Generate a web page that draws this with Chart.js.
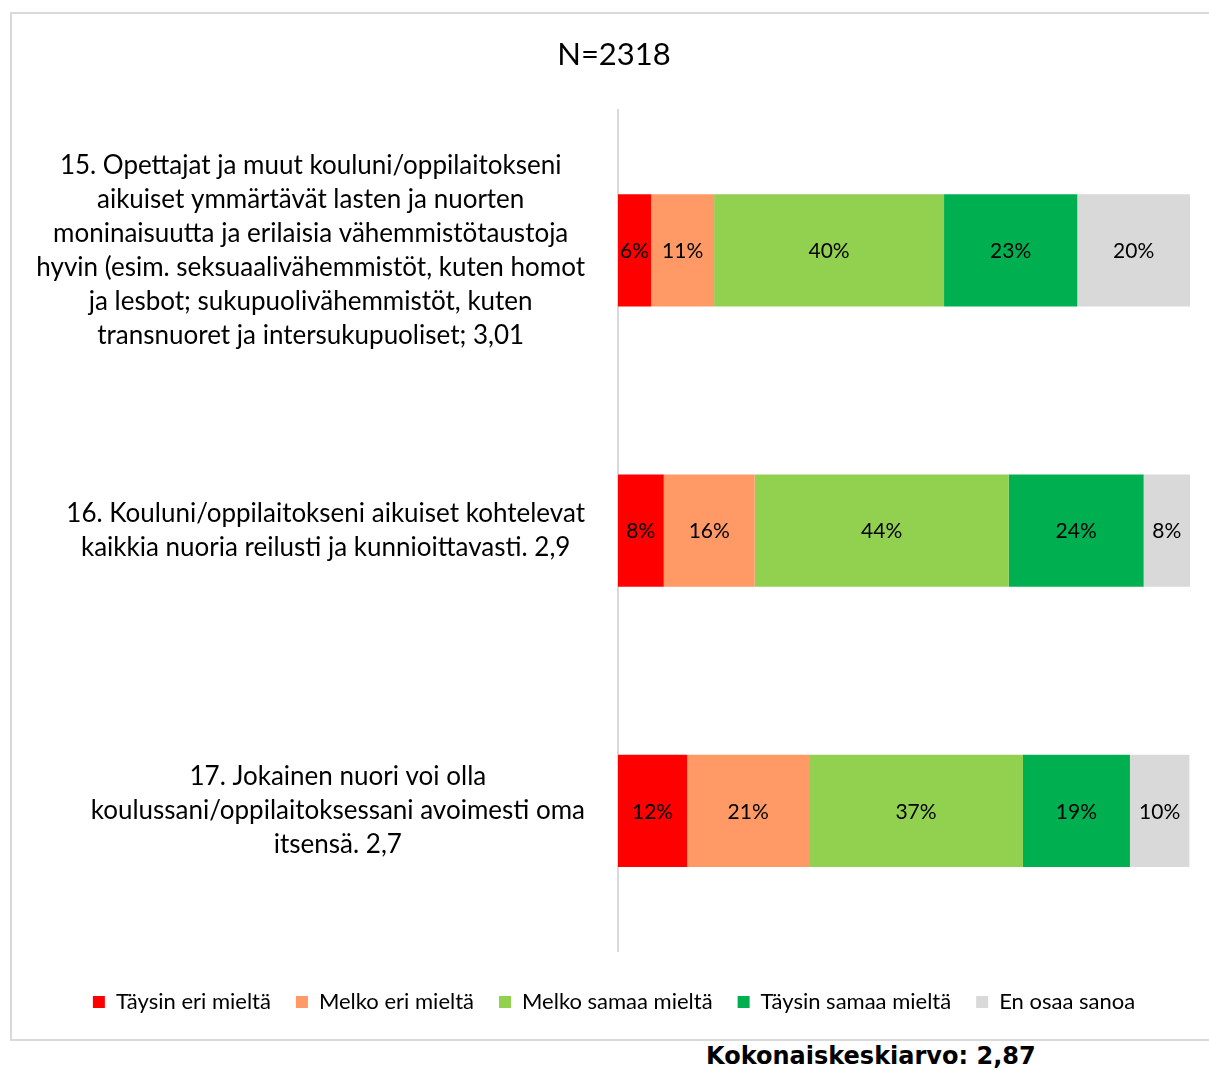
<!DOCTYPE html>
<html><head><meta charset="utf-8">
<script src="https://cdn.jsdelivr.net/npm/chart.js@4"></script>
<style>
html,body{margin:0;padding:0;background:#fff;overflow:hidden;width:1209px;height:1070px;}
#frame{position:absolute;left:10px;top:12px;width:1204px;height:1025px;border:2px solid #d9d9d9;}
#frame canvas{display:block}
#footer{position:absolute;left:706px;top:1043px;font:bold 24px "DejaVu Sans";line-height:26px;color:#000;white-space:nowrap;}
</style></head>
<body>
<div id="frame"><canvas id="c" width="1204" height="1025"></canvas></div>
<div id="footer">Kokonaiskeskiarvo: 2,87</div>
<script>
const chartTitle = 'N=2318';
const categories = [
  ['15. Opettajat ja muut kouluni/oppilaitokseni',
   'aikuiset ymmärtävät lasten ja nuorten',
   'moninaisuutta ja erilaisia vähemmistötaustoja',
   'hyvin (esim. seksuaalivähemmistöt, kuten homot',
   'ja lesbot; sukupuolivähemmistöt, kuten',
   'transnuoret ja intersukupuoliset; 3,01'],
  ['16. Kouluni/oppilaitokseni aikuiset kohtelevat',
   'kaikkia nuoria reilusti ja kunnioittavasti. 2,9'],
  ['17. Jokainen nuori voi olla',
   'koulussani/oppilaitoksessani avoimesti oma',
   'itsensä. 2,7']
];
const seriesNames = ['Täysin eri mieltä', 'Melko eri mieltä', 'Melko samaa mieltä', 'Täysin samaa mieltä', 'En osaa sanoa'];
const taysinEri   = [5.8, 8.0, 12.1];
const melkoEri    = [11.0, 15.9, 21.3];
const melkoSamaa  = [40.2, 44.4, 37.4];
const taysinSamaa = [23.3, 23.6, 18.7];
const enOsaa      = [19.7, 8.1, 10.4];
const seriesValues = [taysinEri, melkoEri, melkoSamaa, taysinSamaa, enOsaa];
const seriesColors = ['#FF0000', '#FF9966', '#92D050', '#00B050', '#D9D9D9'];

const FONT = 'Lato';
const labelFontSize = 26;
const labelLineHeight = 34;
const labelPad = 33;

const categoryLabelPlugin = {
  id: 'categoryLabels',
  afterDraw(chart) {
    const ys = chart.scales.y;
    const ctx = chart.ctx;
    ctx.save();
    ctx.font = labelFontSize + 'px ' + FONT;
    ctx.fillStyle = '#000';
    ctx.textAlign = 'center';
    ctx.textBaseline = 'middle';
    categories.forEach((lines, i) => {
      const y = ys.getPixelForValue(i);
      const w = Math.max(...lines.map(l => ctx.measureText(l).width));
      const cx = ys.right - labelPad - w / 2;
      const y0 = y - (lines.length - 1) * labelLineHeight / 2;
      lines.forEach((l, k) => ctx.fillText(l, cx, y0 + k * labelLineHeight));
    });
    ctx.restore();
  }
};

const valueLabelPlugin = {
  id: 'valueLabels',
  afterDatasetsDraw(chart) {
    const ctx = chart.ctx;
    ctx.save();
    ctx.font = '21px ' + FONT;
    ctx.fillStyle = '#000';
    ctx.textAlign = 'center';
    ctx.textBaseline = 'middle';
    chart.data.datasets.forEach((ds, di) => {
      const meta = chart.getDatasetMeta(di);
      meta.data.forEach((el, i) => {
        const v = ds.data[i];
        const x = (el.x + el.base) / 2;
        ctx.fillText(Math.round(v) + '%', x, el.y + 1);
      });
    });
    ctx.restore();
  }
};

new Chart(document.getElementById('c'), {
  type: 'bar',
  data: {
    labels: categories.map(c => c.join(' ')),
    datasets: seriesNames.map((n, i) => ({
      label: n,
      data: seriesValues[i],
      backgroundColor: seriesColors[i],
      borderWidth: 0,
      barPercentage: 0.5,
      categoryPercentage: 0.8
    }))
  },
  options: {
    indexAxis: 'y',
    responsive: false,
    animation: false,
    layout: { padding: { left: 26, right: 26, top: 0, bottom: 16 } },
    scales: {
      x: {
        stacked: true, min: 0, max: 100,
        ticks: { display: false },
        grid: { display: false },
        border: { display: false },
        afterFit(s) { s.height = 15; }
      },
      y: {
        stacked: true,
        ticks: { display: false },
        grid: { display: false },
        border: { display: true, color: '#d9d9d9', width: 2 },
        afterFit(s) { s.width = 580; }
      }
    },
    plugins: {
      title: {
        display: true, text: chartTitle, color: '#000',
        font: { family: FONT, size: 31, weight: 'normal' },
        padding: { top: 22, bottom: 37 }
      },
      legend: {
        position: 'bottom',
        labels: {
          boxWidth: 12, boxHeight: 12, padding: 25, color: '#000',
          font: { family: FONT, size: 22 }
        }
      },
      tooltip: { enabled: false }
    }
  },
  plugins: [categoryLabelPlugin, valueLabelPlugin]
});
</script>
</body></html>
